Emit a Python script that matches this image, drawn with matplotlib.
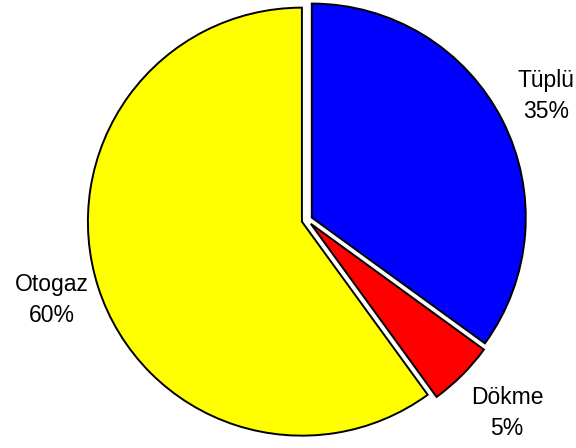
import matplotlib.pyplot as plt

labels = ["Tüplü", "Dökme", "Otogaz"]
shares = [35, 5, 60]
colors = ["#0000FF", "#FF0000", "#FFFF00"]
explode = [0.025, 0.025, 0.025]

# label anchor points in pixel coords (x from left, y from top)
label_px = [(546, 96), (507, 413), (52, 300)]

W, H = 576, 448
cx, cy, r = 307, 220, 214

plt.rcParams['font.family'] = ['Liberation Sans', 'DejaVu Sans']
fig = plt.figure(figsize=(W / 100, H / 100), dpi=100)
ax = fig.add_axes([0, 0, 1, 1])

ax.pie(shares, colors=colors, explode=explode, startangle=90,
       counterclock=False, radius=1.0,
       wedgeprops=dict(edgecolor="black", linewidth=1.4))

ax.set_xlim(-cx / r, (W - cx) / r)
ax.set_ylim(-(H - cy) / r, cy / r)
ax.set_aspect("equal")
ax.axis("off")

for lab, v, (px, py) in zip(labels, shares, label_px):
    ax.text((px - cx) / r, (cy - py) / r, f"{lab}\n{v}%", ha="center",
            va="center", fontsize=16.5, linespacing=1.45)

fig.savefig("out.png", dpi=100)
